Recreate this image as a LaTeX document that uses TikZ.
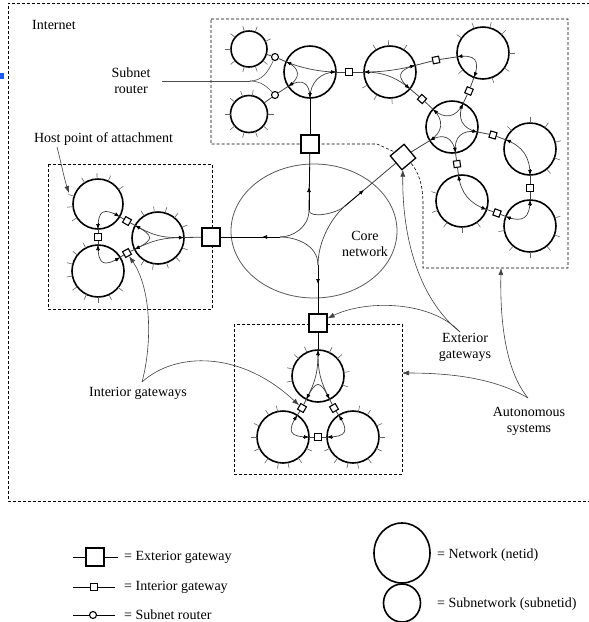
\documentclass[tikz,border=0pt]{standalone}
\usepackage{fontspec}
\setmainfont{Liberation Serif}
\usetikzlibrary{calc,arrows.meta,shapes.geometric}
\definecolor{selblue}{RGB}{20,90,255}
\newcommand\attpt[4]{\coordinate (#1) at ($(#2)!#3!(#4)$);}
\newcommand\bowline[4]{\draw[inl] (#1) .. controls ($(#1)!#4!(#3)$) and ($(#2)!#4!(#3)$) .. (#2);}
\newcommand\tipat[2]{\draw[tipa] ($(#1)!6pt!(#2)$) -- (#1);}
\newcommand\hostticks[3]{\foreach \a in {#3} \draw[tick] (#1.center) ++(\a:#2) -- ++(\a:6);}
\begin{document}
\begin{tikzpicture}[x=1pt,y=1pt,
  lbl/.style={font=\fontsize{14}{16}\selectfont, inner sep=0pt, align=center},
  net/.style={circle, draw=black, line width=1.6pt, inner sep=0pt, minimum size=#1},
  srt/.style={circle, draw=black, line width=1.1pt, fill=white, inner sep=0pt, minimum size=7pt},
  igw/.style={rectangle, draw=black, line width=1.1pt, fill=white, inner sep=0pt, minimum size=6.5pt},
  egw/.style={rectangle, draw=black, line width=1.3pt, fill=white, inner sep=0pt, minimum size=18pt},
  asbox/.style={draw=black, line width=0.6pt, dash pattern=on 3pt off 2pt},
  corest/.style={draw=black!65, line width=0.8pt},
  tick/.style={draw=black!60, line width=0.6pt},
  lnk/.style={draw=black!75, line width=0.8pt},
  lnkb/.style={draw=black, line width=0.8pt},
  inl/.style={draw=black!75, line width=0.7pt},
  tipa/.style={draw=black, line width=0.7pt, -{Latex[length=5pt,width=4pt]}},
  lead/.style={draw=black!70, line width=0.6pt},
  leadarr/.style={lead, -{Latex[length=7pt,width=5pt]}, draw=black!75}
]
\useasboundingbox (0,0) rectangle (589,-622);
\fill[selblue] (0,-73) rectangle (4,-79);

% autonomous system boxes and core
\draw[asbox] (595,-3) -- (8,-3) -- (8,-501) -- (595,-501);
\draw[asbox] (211,-19) -- (568,-19) -- (568,-268) -- (423,-268) -- (423,-205)
  .. controls (423,-185) and (419,-172) .. (410,-162) -- (397,-153) -- (377,-144) -- (211,-144) -- cycle;
\draw[asbox] (48,-164) rectangle (212,-309);
\draw[asbox] (234,-324) rectangle (402,-474);
\draw[corest] (314,-231) ellipse [x radius=83pt, y radius=67pt];

% networks
\node[net=36pt] (s1) at (249,-49) {};
\node[net=37pt] (s2) at (249,-114) {};
\node[net=52pt] (h1) at (310,-72) {};
\node[net=52pt] (n2) at (390,-72) {};
\node[net=52pt] (n3) at (483,-53) {};
\node[net=52pt] (h2) at (452,-127) {};
\node[net=52pt] (n4) at (530,-149) {};
\node[net=52pt] (n5) at (462,-201) {};
\node[net=52pt] (n6) at (530,-226) {};
\node[net=50pt] (l1) at (98,-204) {};
\node[net=52pt] (l2) at (98,-271) {};
\node[net=52pt] (l3) at (158,-238) {};
\node[net=52pt] (b1) at (318,-376) {};
\node[net=52pt] (b2) at (283,-437) {};
\node[net=52pt] (b3) at (353,-437) {};

% hosts
\hostticks{s1}{18}{25,70,105,140,180,220,255,290,320}
\hostticks{s2}{18.5}{0,80,110,140,180,220,255,290,320}
\hostticks{n2}{26}{58,93,122,210,240,274}
\hostticks{n3}{26}{0,45,75,110,145,220,290,325}
\hostticks{n4}{26}{15,55,90,135,310,340}
\hostticks{n5}{26}{163,201,235,270,305}
\hostticks{n6}{26}{18,190,230,270,310,340}
\hostticks{l1}{25}{35,66,92,122,162,186,213}
\hostticks{l2}{26}{118,142,165,191,217,244,270,295,321}
\hostticks{l3}{26}{24,51,74,98,122,238,260,289,313,338}
\hostticks{b1}{26}{8,42,64,115,138,165,191,340}
\hostticks{b2}{26}{102,123,155,180,206,235,260,281,306,334}
\hostticks{b3}{26}{78,57,25,0,334,305,280,259,234,206}

% gateways
\node[srt] (sr1) at (275,-57) {};
\node[srt] (sr2) at (275,-95) {};
\node[igw] (g1) at (349,-72) {};
\node[igw,rotate=11] (g2) at (436,-60) {};
\node[igw,rotate=48] (g3) at (422,-99) {};
\node[igw,rotate=67] (g4) at (469,-91) {};
\node[igw,rotate=-16] (g5) at (493,-135) {};
\node[igw,rotate=8] (g6) at (457,-164) {};
\node[igw] (g7) at (530,-188) {};
\node[igw,rotate=-20] (g8) at (497,-213) {};
\node[igw] (g9) at (98,-237) {};
\node[igw,rotate=-30] (g10) at (127,-221) {};
\node[igw,rotate=29] (g11) at (127,-253) {};
\node[igw,rotate=60] (g12) at (302,-408) {};
\node[igw,rotate=30] (g13) at (334,-408) {};
\node[igw] (g14) at (318,-437) {};
\node[egw] (E1) at (310,-144) {};
\node[egw] (E2) at (211,-237) {};
\node[egw] (E3) at (318,-323) {};
\node[egw,rotate=40] (E4) at (403,-157) {};

% attachment points
\attpt{s1r}{s1}{18pt}{sr1}
\attpt{s2r}{s2}{18.5pt}{sr2}
\attpt{h1a}{h1}{26pt}{sr1}
\attpt{h1b}{h1}{26pt}{g1}
\attpt{h1c}{h1}{26pt}{E1}
\attpt{h1d}{h1}{26pt}{sr2}
\attpt{n2a}{n2}{26pt}{g1}
\attpt{n2b}{n2}{26pt}{g2}
\attpt{n2c}{n2}{26pt}{g3}
\attpt{n3a}{n3}{26pt}{g2}
\attpt{n3b}{n3}{26pt}{g4}
\attpt{h2a}{h2}{26pt}{g4}
\attpt{h2b}{h2}{26pt}{g5}
\attpt{h2c}{h2}{26pt}{g6}
\attpt{h2d}{h2}{26pt}{E4}
\attpt{h2e}{h2}{26pt}{g3}
\attpt{n4a}{n4}{26pt}{g5}
\attpt{n4b}{n4}{26pt}{g7}
\attpt{n5a}{n5}{26pt}{g6}
\attpt{n5b}{n5}{26pt}{g8}
\attpt{n6a}{n6}{26pt}{g7}
\attpt{n6b}{n6}{26pt}{g8}
\attpt{l1a}{l1}{25pt}{g10}
\attpt{l1b}{l1}{25pt}{g9}
\attpt{l2a}{l2}{26pt}{g9}
\attpt{l2b}{l2}{26pt}{g11}
\attpt{l3a}{l3}{26pt}{g10}
\attpt{l3b}{l3}{26pt}{E2}
\attpt{l3c}{l3}{26pt}{g11}
\attpt{b1a}{b1}{26pt}{E3}
\attpt{b1b}{b1}{26pt}{g13}
\attpt{b1c}{b1}{26pt}{g12}
\attpt{b2a}{b2}{26pt}{g12}
\attpt{b2b}{b2}{26pt}{g14}
\attpt{b3a}{b3}{26pt}{g13}
\attpt{b3b}{b3}{26pt}{g14}

% links between networks and gateways
\draw[lnk] (s1r) -- (sr1); \draw[lnk] (sr1) -- (h1a);
\draw[lnk] (s2r) -- (sr2); \draw[lnk] (sr2) -- (h1d);
\draw[lnk] (h1b) -- (g1); \draw[lnk] (g1) -- (n2a);
\draw[lnk] (n2b) -- (g2); \draw[lnk] (g2) -- (n3a);
\draw[lnk] (n2c) -- (g3); \draw[lnk] (g3) -- (h2e);
\draw[lnk] (n3b) -- (g4); \draw[lnk] (g4) -- (h2a);
\draw[lnk] (h2b) -- (g5); \draw[lnk] (g5) -- (n4a);
\draw[lnk] (h2c) -- (g6); \draw[lnk] (g6) -- (n5a);
\draw[lnk] (n4b) -- (g7); \draw[lnk] (g7) -- (n6a);
\draw[lnk] (n5b) -- (g8); \draw[lnk] (g8) -- (n6b);
\draw[lnk] (l1b) -- (g9); \draw[lnk] (g9) -- (l2a);
\draw[lnk] (l1a) -- (g10); \draw[lnk] (g10) -- (l3a);
\draw[lnk] (l2b) -- (g11); \draw[lnk] (g11) -- (l3c);
\draw[lnk] (b1c) -- (g12); \draw[lnk] (g12) -- (b2a);
\draw[lnk] (b1b) -- (g13); \draw[lnk] (g13) -- (b3a);
\draw[lnk] (b2b) -- (g14); \draw[lnk] (g14) -- (b3b);
\draw[lnkb] (h1c) -- (E1);
\draw[lnk] (h2d) -- (E4);
\draw[lnk] (l3b) -- (E2);
\draw[lnkb] (b1a) -- (E3);

% routing inside networks
\bowline{h1b}{h1a}{h1}{0.6} \bowline{h1a}{h1d}{h1}{0.6}
\bowline{h1d}{h1c}{h1}{0.6} \bowline{h1c}{h1b}{h1}{0.6}
\foreach \p in {h1a,h1b,h1c,h1d} {\tipat{\p}{h1}}
\bowline{n2b}{n2a}{n2}{0.7} \bowline{n2a}{n2c}{n2}{0.7} \bowline{n2c}{n2b}{n2}{0.7}
\foreach \p in {n2a,n2b,n2c} {\tipat{\p}{n2}}
\bowline{n3a}{n3b}{n3}{0.7} \tipat{n3a}{n3} \tipat{n3b}{n3}
\bowline{h2b}{h2a}{h2}{0.6} \bowline{h2a}{h2e}{h2}{0.6} \bowline{h2e}{h2d}{h2}{0.6}
\bowline{h2d}{h2c}{h2}{0.6} \bowline{h2c}{h2b}{h2}{0.6}
\foreach \p in {h2a,h2b,h2c,h2d,h2e} {\tipat{\p}{h2}}
\bowline{n4a}{n4b}{n4}{0.7} \tipat{n4a}{n4} \tipat{n4b}{n4}
\bowline{n5a}{n5b}{n5}{0.7} \tipat{n5a}{n5} \tipat{n5b}{n5}
\bowline{n6a}{n6b}{n6}{0.7} \tipat{n6a}{n6} \tipat{n6b}{n6}
\bowline{l1a}{l1b}{l1}{0.75} \tipat{l1a}{l1} \tipat{l1b}{l1}
\bowline{l2a}{l2b}{l2}{0.75} \tipat{l2a}{l2} \tipat{l2b}{l2}
\bowline{l3a}{l3c}{l3}{0.85} \bowline{l3c}{l3b}{l3}{0.85} \bowline{l3b}{l3a}{l3}{0.85}
\foreach \p in {l3a,l3b,l3c} {\tipat{\p}{l3}}
\bowline{b1a}{b1c}{b1}{0.85} \bowline{b1c}{b1b}{b1}{0.85} \bowline{b1b}{b1a}{b1}{0.85}
\foreach \p in {b1a,b1b,b1c} {\tipat{\p}{b1}}
\bowline{b2a}{b2b}{b2}{0.75} \tipat{b2a}{b2} \tipat{b2b}{b2}
\bowline{b3a}{b3b}{b3}{0.75} \tipat{b3a}{b3} \tipat{b3b}{b3}

% core network routing
\coordinate (cT) at (309,-210);
\coordinate (cL) at (280,-237);
\coordinate (cB) at (318,-265);
\coordinate (cR) at (345,-206);
\coordinate (cTt) at (309,-187);
\coordinate (cLt) at (262,-237);
\coordinate (cBt) at (318,-284);
\coordinate (cRt) at (364,-190);
\draw[lnkb] (E1) -- (cT);
\draw[lnkb] (E2) -- (cL);
\draw[lnkb] (E3) -- (cB);
\draw[lnk] (E4) -- (cR);
\draw[inl] (cT) .. controls (309,-219) and (336,-214) .. (cR);
\draw[inl] (cT) .. controls (309,-228) and (292,-237) .. (cL);
\draw[inl] (cL) .. controls (296,-237) and (318,-245) .. (cB);
\draw[inl] (cB) .. controls (318,-240) and (333,-216) .. (cR);
\draw[tipa] (cT) -- (cTt);
\draw[tipa] (cL) -- (cLt);
\draw[tipa] (cB) -- (cBt);
\draw[tipa] (cR) -- (cRt);
\node[lbl] (lcore) at (365,-244) {Core\\network};

% labels and leaders
\node[lbl, anchor=west] (linet) at (32,-25) {Internet};
\node[lbl] (lsr) at (131,-81) {Subnet\\router};
\coordinate (lsr0) at (162,-81);
\coordinate (fork) at (250,-81);
\draw[lead] (lsr0) -- (fork);
\draw[lead] (fork) .. controls (262,-81) and (268,-72) .. (sr1);
\draw[lead] (fork) .. controls (262,-81) and (268,-88) .. (sr2);

\node[lbl] (lhost) at (103.5,-139) {Host point of attachment};
\coordinate (hostA) at (57,-147);
\coordinate (hostB) at (69,-193);
\draw[leadarr] (hostA) .. controls (61,-162) and (64,-178) .. (hostB);

\node[lbl] (lig) at (138,-393) {Interior gateways};
\coordinate (igc) at (142,-382);
\draw[leadarr] (igc) .. controls (152,-345) and (152,-290) .. (g11);
\draw[leadarr] (igc) .. controls (175,-352) and (240,-350) .. (g12);

\node[lbl] (leg) at (465,-347) {Exterior\\gateways};
\coordinate (egc) at (460,-332);
\draw[leadarr] (egc) .. controls (420,-300) and (402,-240) .. (E4);
\draw[leadarr] (egc) .. controls (430,-300) and (365,-300) .. (E3);

\node[lbl] (las) at (529,-421) {Autonomous\\systems};
\coordinate (asc) at (528,-398);
\coordinate (asT) at (501,-268);
\coordinate (asB) at (402,-373);
\draw[leadarr] (asc) .. controls (505,-370) and (500,-320) .. (asT);
\draw[leadarr] (asc) .. controls (495,-378) and (450,-373) .. (asB);

% legend
\coordinate (lgE1) at (73,-557); \coordinate (lgE2) at (118,-557);
\node[egw] (lgE) at (95,-557) {};
\draw[lnkb] (lgE1) -- (lgE); \draw[lnkb] (lgE) -- (lgE2);
\node[lbl, anchor=west] at (124,-557) {= Exterior gateway};
\coordinate (lgI1) at (73,-587); \coordinate (lgI2) at (115,-587);
\node[igw] (lgI) at (94,-587) {};
\draw[lnkb] (lgI1) -- (lgI); \draw[lnkb] (lgI) -- (lgI2);
\node[lbl, anchor=west] at (124,-587) {= Interior gateway};
\coordinate (lgS1) at (73,-615); \coordinate (lgS2) at (115,-615);
\node[srt] (lgS) at (93,-615) {};
\draw[lnkb] (lgS1) -- (lgS); \draw[lnkb] (lgS) -- (lgS2);
\node[lbl, anchor=west] at (124,-615) {= Subnet router};
\node[ellipse, draw=black, line width=1.6pt, inner sep=0pt, minimum width=56pt, minimum height=60pt] (lgN) at (402,-553) {};
\node[lbl, anchor=west] at (437,-555) {= Network (netid)};
\node[ellipse, draw=black, line width=1.6pt, inner sep=0pt, minimum width=37pt, minimum height=38pt] (lgSN) at (402,-603) {};
\node[lbl, anchor=west] at (437,-604) {= Subnetwork (subnetid)};
\end{tikzpicture}
\end{document}
